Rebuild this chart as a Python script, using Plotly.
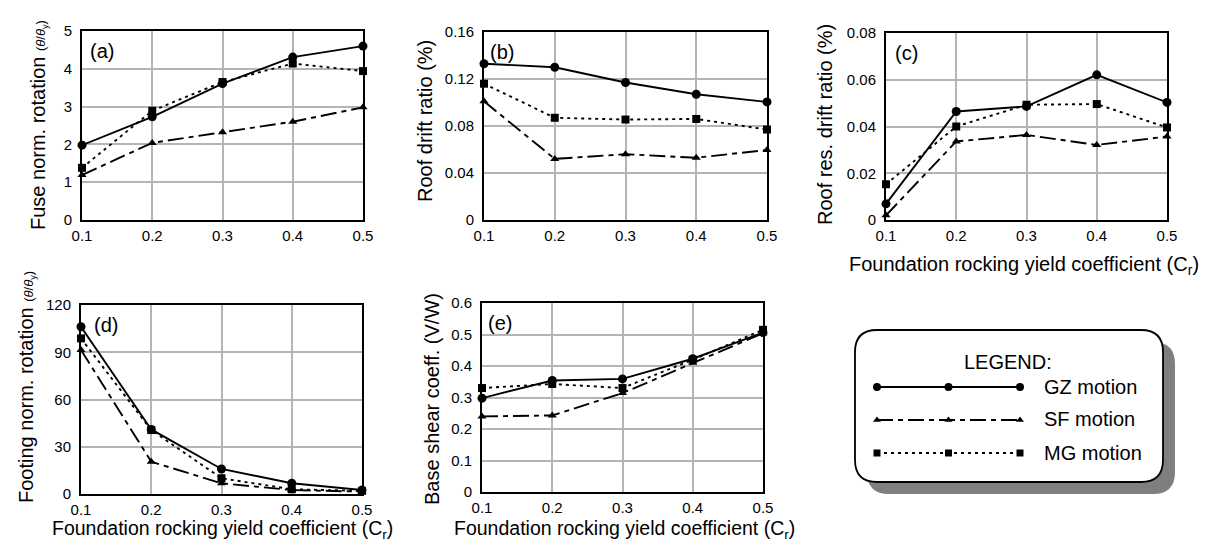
import plotly.graph_objects as go

# Page body has an 8px default margin: the figure is sized to fill the window exactly.
W, H = 1200, 534
OFF = 8

cr = [0.1, 0.2, 0.3, 0.4, 0.5]

# (a) Fuse normalized rotation
a_gz = [1.98, 2.73, 3.61, 4.31, 4.60]
a_sf = [1.19, 2.04, 2.32, 2.60, 2.98]
a_mg = [1.38, 2.89, 3.65, 4.14, 3.94]
# (b) Roof drift ratio (%)
b_gz = [0.133, 0.130, 0.117, 0.107, 0.1005]
b_sf = [0.101, 0.052, 0.056, 0.053, 0.0596]
b_mg = [0.116, 0.087, 0.0855, 0.086, 0.077]
# (c) Roof residual drift ratio (%)
c_gz = [0.0069, 0.0464, 0.0486, 0.0621, 0.0503]
c_sf = [0.0020, 0.0336, 0.0364, 0.0321, 0.0357]
c_mg = [0.0153, 0.0400, 0.0493, 0.0496, 0.0396]
# (d) Footing normalized rotation
d_gz = [106.2, 41.0, 15.9, 6.8, 2.5]
d_sf = [91.4, 20.5, 6.8, 2.5, 1.5]
d_mg = [98.8, 40.6, 10.0, 3.0, 2.0]
# (e) Base shear coefficient
e_gz = [0.298, 0.354, 0.359, 0.423, 0.506]
e_sf = [0.240, 0.243, 0.314, 0.410, 0.504]
e_mg = [0.330, 0.343, 0.330, 0.420, 0.515]

series_names = ["GZ motion", "SF motion", "MG motion"]
legend_x = [0, 0.5, 1]
legend_y = [3, 2, 1]

xticks = [0.1, 0.2, 0.3, 0.4, 0.5]
xticktext = ["0.1", "0.2", "0.3", "0.4", "0.5"]

panels = [
    dict(data=(a_gz, a_sf, a_mg), yr=[0, 5], dt=1, fmt="{:g}",
         px=(82, 363, 31, 220), label="(a)", lo=6),
    dict(data=(b_gz, b_sf, b_mg), yr=[0, 0.16], dt=0.04, fmt="{:g}",
         px=(484, 767, 32, 220), label="(b)", lo=4),
    dict(data=(c_gz, c_sf, c_mg), yr=[0, 0.08], dt=0.02, fmt="{:g}",
         px=(886, 1167, 33, 220), label="(c)", lo=7),
    dict(data=(d_gz, d_sf, d_mg), yr=[0, 120], dt=30, fmt="{:g}",
         px=(81, 362, 305, 494), label="(d)", lo=11),
    dict(data=(e_gz, e_sf, e_mg), yr=[0, 0.6], dt=0.1, fmt="{:g}",
         px=(482, 763, 303, 492), label="(e)", lo=4),
]

styles = [
    dict(dash="solid", symbol="circle", size=9),
    dict(dash="16px,5px,5px,5px", symbol="triangle-up", size=8),
    dict(dash="3px,4px", symbol="square", size=8),
]

FONT = "Liberation Sans, Arial, sans-serif"


def fx(p):
    return (p - OFF) / W


def fy(p):
    return 1 - (p - OFF) / H


fig = go.Figure()
layout = dict(
    width=W, height=H, margin=dict(l=0, r=0, t=0, b=0, autoexpand=False),
    paper_bgcolor="white", plot_bgcolor="white", showlegend=False,
    font=dict(family=FONT, color="black"),
)
annotations = []
shapes = []

for i, p in enumerate(panels):
    n = i + 1
    xa = "x" if n == 1 else f"x{n}"
    ya = "y" if n == 1 else f"y{n}"
    l, r, t, b = p["px"]
    for ser, st in zip(p["data"], styles):
        fig.add_trace(go.Scatter(
            x=cr, y=ser, xaxis=xa, yaxis=ya, mode="lines+markers",
            line=dict(color="black", width=1.9, dash=st["dash"]),
            marker=dict(symbol=st["symbol"], size=st["size"], color="black"),
            cliponaxis=False,
        ))
    lo, hi = p["yr"]
    nt = int(round((hi - lo) / p["dt"]))
    yt = [round(lo + k * p["dt"], 6) for k in range(nt + 1)]
    layout[f"xaxis{'' if n == 1 else n}"] = dict(
        domain=[fx(l), fx(r)], anchor=ya, range=[0.1, 0.5],
        tickvals=xticks, ticktext=xticktext, showgrid=True,
        gridcolor="#b4b4b4", gridwidth=1.5, showline=True, linecolor="black",
        linewidth=2, mirror=True, ticks="", zeroline=False, automargin=False,
        tickfont=dict(size=15, family=FONT), ticklabelstandoff=1,
    )
    layout[f"yaxis{'' if n == 1 else n}"] = dict(
        domain=[fy(b), fy(t)], anchor=xa, range=[lo, hi],
        tickvals=yt, ticktext=[p["fmt"].format(v) for v in yt],
        showgrid=True, gridcolor="#b4b4b4", gridwidth=1.5, showline=True,
        linecolor="black", linewidth=2, mirror=True, ticks="",
        zeroline=False, automargin=False, tickfont=dict(size=15, family=FONT),
        ticklabelstandoff=5,
    )
    annotations.append(dict(
        text=p["label"], xref="paper", yref="paper",
        x=fx(l + p["lo"]), y=fy(t + 20), xanchor="left", yanchor="middle",
        showarrow=False, font=dict(size=20, family=FONT),
    ))

small = "<span style='font-size:13px'>(<i>θ</i>/<i>θ</i><sub>y</sub>)</span>"
ytitles = [
    ("Fuse norm. rotation " + small, 39, 125),
    ("Roof drift ratio (%)", 425, 121),
    ("Roof res. drift ratio (%)", 825, 125),
    ("Footing norm. rotation " + small, 26, 387),
    ("Base shear coeff. (V/W)", 432, 399),
]
for txt, x, y in ytitles:
    annotations.append(dict(
        text=txt, xref="paper", yref="paper", x=fx(x), y=fy(y),
        xanchor="center", yanchor="middle", textangle=-90, showarrow=False,
        font=dict(size=20, family=FONT),
    ))

xtitle = "Foundation rocking yield coefficient (C<sub>r</sub>)"
for x, y, s in [(1024, 265, 20), (222, 529.5, 19.5), (624, 529.5, 19.5)]:
    annotations.append(dict(
        text=xtitle, xref="paper", yref="paper", x=fx(x), y=fy(y),
        xanchor="center", yanchor="middle", showarrow=False,
        font=dict(size=s, family=FONT),
    ))


# Legend box (rounded, with shadow)
def rrect(x0, y0, x1, y1, rad):
    def P(x, y):
        return f"{fx(x):.5f},{fy(y):.5f}"
    return (f"M {P(x0 + rad, y0)} L {P(x1 - rad, y0)} Q {P(x1, y0)} {P(x1, y0 + rad)} "
            f"L {P(x1, y1 - rad)} Q {P(x1, y1)} {P(x1 - rad, y1)} "
            f"L {P(x0 + rad, y1)} Q {P(x0, y1)} {P(x0, y1 - rad)} "
            f"L {P(x0, y0 + rad)} Q {P(x0, y0)} {P(x0 + rad, y0)} Z")


bx0, by0, bx1, by1 = 855, 330, 1163, 482
shapes.append(dict(type="path", xref="paper", yref="paper",
                   path=rrect(bx0 + 12, by0 + 12, bx1 + 12, by1 + 12, 22),
                   fillcolor="#7f7f7f", line=dict(width=0), layer="below"))
shapes.append(dict(type="path", xref="paper", yref="paper",
                   path=rrect(bx0, by0, bx1, by1, 22),
                   fillcolor="white", line=dict(color="black", width=1.8),
                   layer="below"))

# Legend samples on a hidden axis
lx0, lx1 = 877, 1020
ly_rows = [387, 419, 453]
pad = 8 / (ly_rows[2] - ly_rows[0]) * 2
layout["xaxis6"] = dict(domain=[fx(lx0), fx(lx1)], anchor="y6", range=[0, 1],
                        visible=False, fixedrange=True, automargin=False)
layout["yaxis6"] = dict(domain=[fy(ly_rows[2] + 8), fy(ly_rows[0] - 8)],
                        anchor="x6", range=[1 - pad, 3 + pad],
                        visible=False, fixedrange=True, automargin=False)
for nm, st, yy in zip(series_names, styles, legend_y):
    fig.add_trace(go.Scatter(
        x=legend_x, y=[yy] * 3, xaxis="x6", yaxis="y6", mode="lines+markers",
        line=dict(color="black", width=1.9, dash=st["dash"]),
        marker=dict(symbol=st["symbol"], size=st["size"] - 1, color="black"),
        cliponaxis=False, name=nm,
    ))
for nm, y in zip(series_names, ly_rows):
    annotations.append(dict(
        text=nm, xref="paper", yref="paper", x=fx(1042), y=fy(y),
        xanchor="left", yanchor="middle", showarrow=False,
        font=dict(size=20, family=FONT),
    ))
annotations.append(dict(
    text="LEGEND:", xref="paper", yref="paper", x=fx(1008), y=fy(362),
    xanchor="center", yanchor="middle", showarrow=False,
    font=dict(size=20, family=FONT),
))

layout["annotations"] = annotations
layout["shapes"] = shapes
fig.update_layout(**layout)
fig.write_html("out.html")
